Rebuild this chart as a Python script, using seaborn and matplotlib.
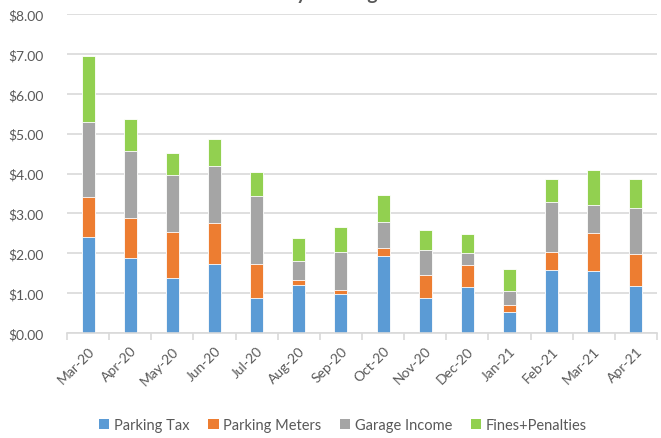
import matplotlib
matplotlib.use("Agg")
import matplotlib.pyplot as plt
import seaborn as sns
import numpy as np
import pandas as pd
from matplotlib.patches import Patch
from matplotlib.ticker import FixedLocator

months = ["Mar-20", "Apr-20", "May-20", "Jun-20", "Jul-20", "Aug-20", "Sep-20",
          "Oct-20", "Nov-20", "Dec-20", "Jan-21", "Feb-21", "Mar-21", "Apr-21"]
parking_tax = [2.40, 1.87, 1.37, 1.73, 0.87, 1.20, 0.99, 1.94, 0.88, 1.15, 0.52, 1.57, 1.56, 1.17]
parking_meters = [1.02, 1.01, 1.17, 1.03, 0.87, 0.12, 0.09, 0.20, 0.58, 0.56, 0.17, 0.45, 0.94, 0.82]
garage_income = [1.88, 1.68, 1.41, 1.43, 1.70, 0.49, 0.94, 0.64, 0.61, 0.30, 0.37, 1.27, 0.70, 1.14]
fines_penalties = [1.65, 0.81, 0.57, 0.68, 0.60, 0.56, 0.65, 0.69, 0.51, 0.47, 0.55, 0.56, 0.89, 0.73]
series_names = ["Parking Tax", "Parking Meters", "Garage Income", "Fines+Penalties"]
colors = ["#5B9BD5", "#ED7D31", "#A5A5A5", "#92D050"]
yticks = [0, 1, 2, 3, 4, 5, 6, 7, 8]
title = "Monthly Parking Revenues"

sns.set_theme(style="white")
plt.rcParams['font.family'] = ['Lato', 'DejaVu Sans']

W, H = 661, 439
fig = plt.figure(figsize=(W / 100, H / 100), dpi=100)
ax = fig.add_axes([67 / W, 1 - 334 / H, (657 - 67) / W, (334 - 15) / H])

series = [parking_tax, parking_meters, garage_income, fines_penalties]
cum = np.cumsum(np.array(series), axis=0)
df = pd.DataFrame({"month": months})
for i in range(4):
    df[f"c{i}"] = cum[i]

# draw tallest (cumulative) first so lower segments overlay
for i in reversed(range(4)):
    sns.barplot(data=df, x="month", y=f"c{i}", color=colors[i], width=0.31,
                saturation=1, edgecolor="white", linewidth=0.6, ax=ax, zorder=3)

ax.set_ylim(0, 8)
ax.set_xlim(-0.5, len(months) - 0.5)
ax.set_yticks(yticks)
ax.set_yticklabels([f"${v:.2f}" for v in yticks])
ax.yaxis.grid(True, color="#D9D9D9", linewidth=1.2, zorder=0)
ax.set_axisbelow(True)
ax.set_xlabel("")
ax.set_ylabel("")
for s in ["top", "right", "left"]:
    ax.spines[s].set_visible(False)
ax.spines["bottom"].set_color("#D9D9D9")
ax.spines["bottom"].set_linewidth(1.2)
ax.spines["bottom"].set_zorder(5)

ax.tick_params(axis="y", length=0, pad=17, labelsize=10, labelcolor="#595959")
ax.tick_params(axis="x", which="major", length=0, pad=8, labelsize=10, labelcolor="#595959")
ax.xaxis.set_minor_locator(FixedLocator(np.arange(-0.5, len(months), 1.0)))
ax.tick_params(axis="x", which="minor", length=5, width=1.2, color="#D9D9D9", direction="out")
ax.xaxis.set_ticks_position("bottom")
for lbl in ax.get_xticklabels():
    lbl.set_rotation(45)
    lbl.set_ha("right")
    lbl.set_rotation_mode("anchor")

handles = [Patch(facecolor=c, edgecolor="none") for c in colors]
fig.legend(handles, series_names, loc="center", bbox_to_anchor=(343 / W, 1 - 426 / H),
           ncol=4, frameon=False, fontsize=10.5, labelcolor="#595959",
           handlelength=0.7, handleheight=0.7, handletextpad=0.3, columnspacing=1.3)

fig.text(350 / W, 1.0, title, ha="center", va="baseline", fontsize=14,
         fontweight="bold", color="#595959")

fig.savefig("out.png", dpi=100)
